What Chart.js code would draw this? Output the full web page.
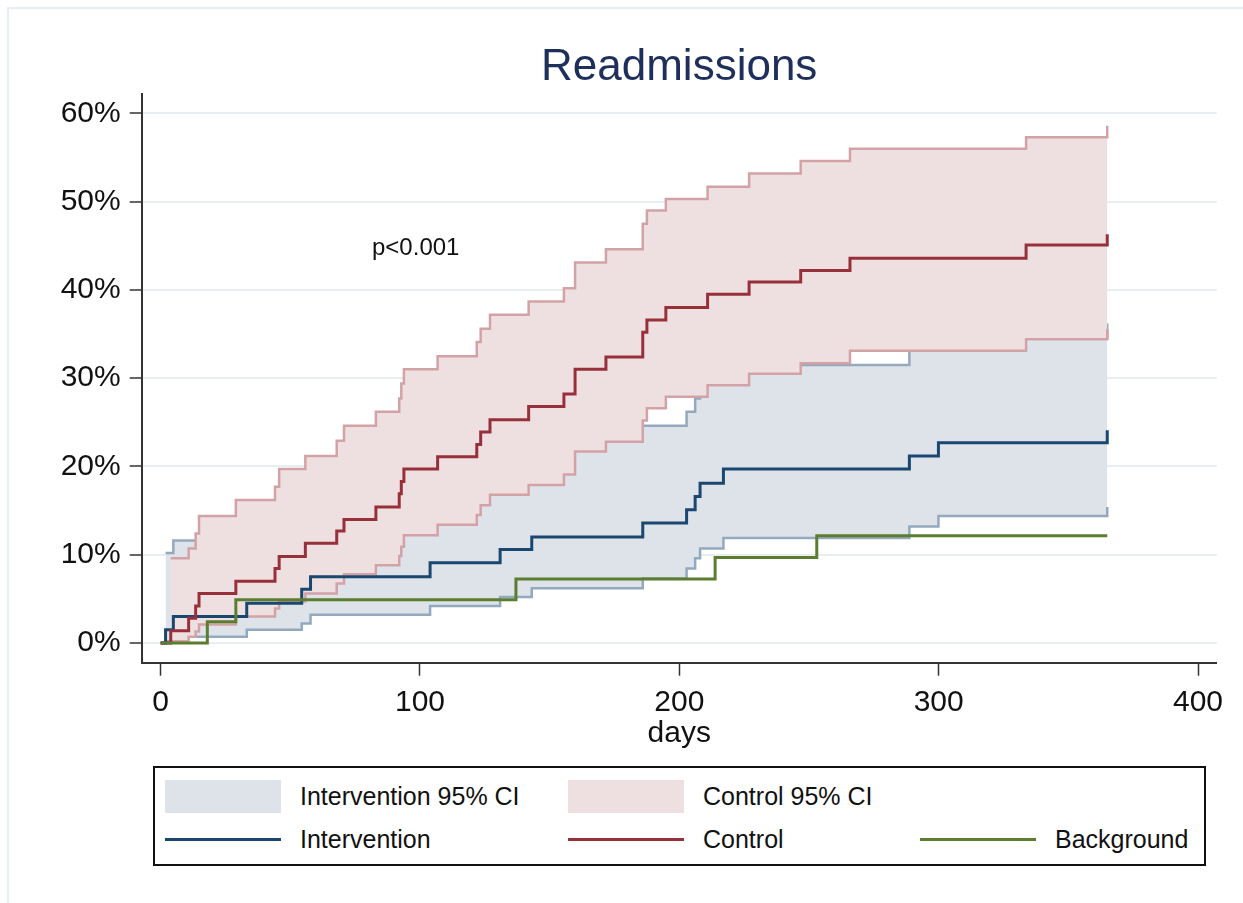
<!DOCTYPE html>
<html>
<head>
<meta charset="utf-8">
<title>Readmissions</title>
<script src="https://cdn.jsdelivr.net/npm/chart.js@4.4.1/dist/chart.umd.min.js"></script>
<style>
  body { margin: 0; background: #fff; font-family: "Liberation Sans", Arial, sans-serif; }
  #wrap { position: relative; width: 1243px; height: 903px; overflow: hidden; }
  #frame { position: absolute; left: 7px; top: 7px; right: -10px; bottom: -10px;
           border-left: 2px solid #e6eef1; border-top: 2px solid #e6eef1; }
  #myChart { position: absolute; left: 0; top: 0; }
  #legend { position: absolute; left: 153px; top: 766px; width: 1053px; height: 100px;
            border: 2px solid #111; box-sizing: border-box; background: #fff; }
  .sw { position: absolute; width: 116px; height: 33px; }
  .ln { position: absolute; width: 116px; height: 3px; }
  .lbl { position: absolute; font-size: 25px; line-height: 30px; color: #111; white-space: nowrap; }
</style>
</head>
<body>
<div id="wrap">
  <div id="frame"></div>
  <canvas id="myChart" width="1243" height="903"></canvas>
  <div id="legend"></div>
</div>
<script>
// intervention group (days, cumulative %)
const interDays = [0, 1.9, 4.9, 33.2, 54.4, 57.8, 103.9, 130.9, 143.1, 185.9, 202.8, 206.1, 208, 217, 288.7, 299.9, 365];
const interKM   = [0, 1.5, 3.0, 4.5, 6.1, 7.5, 9.1, 10.6, 12.0, 13.6, 15.1, 16.6, 18.1, 19.7, 21.2, 22.7, 24.1];
// CI starts at first event
const interLo   = [0.2, 0.7, 1.5, 2.2, 3.2, 4.2, 5.2, 6.2, 7.3, 8.45, 9.6, 10.7, 11.9, 13.2, 14.4, 15.4];
const interHi   = [10.2, 11.6, 14.0, 16.5, 18.0, 20.3, 22.0, 23.4, 24.6, 26.2, 27.7, 29.8, 31.5, 33.3, 34.6, 36.2];

// control group
const ctrlDays = [0, 3.9, 10.8, 13.5, 14.8, 29, 44.1, 45.7, 55.8, 67.9, 70.7, 83, 92, 92.8, 93.8, 106.8,
                  121.9, 123.4, 127, 141.9, 155.5, 159.8, 171.7, 185.9, 187.5, 194.8, 210.9, 226.9, 246.8, 265.8, 333.7, 365];
const ctrlKM   = [0, 1.4, 2.8, 4.2, 5.6, 7.0, 8.45, 9.8, 11.3, 12.7, 14.0, 15.4, 16.9, 18.3, 19.7, 21.1,
                  22.5, 23.9, 25.3, 26.8, 28.2, 31.0, 32.4, 35.2, 36.6, 38.0, 39.5, 40.9, 42.2, 43.6, 45.1, 46.3];
const ctrlLo   = [0.2, 0.7, 1.3, 2.1, 3.0, 3.9, 4.7, 5.6, 6.75, 7.8, 8.8, 9.85, 10.9, 12.2, 13.4,
                  14.5, 15.6, 16.8, 17.9, 19.1, 21.7, 22.8, 25.2, 26.6, 27.9, 29.2, 30.5, 31.7, 33.1, 34.4, 35.6];
const ctrlHi   = [9.6, 10.7, 12.4, 14.4, 16.2, 17.7, 19.7, 21.2, 22.9, 24.6, 26.2, 27.7, 29.4, 31.0, 32.5,
                  34.1, 35.6, 37.2, 38.7, 40.2, 43.1, 44.6, 47.5, 49.0, 50.3, 51.7, 53.2, 54.6, 56.0, 57.3, 58.6];

// background population
const bgDays = [0, 18, 29, 137, 213.8, 253, 365];
const bgKM   = [0, 2.4, 4.9, 7.25, 9.7, 12.15, 12.15];

const xTicks = [0, 100, 200, 300, 400];
const yTicks = [0, 10, 20, 30, 40, 50, 60];
const pText = 'p<0.001';
const pAt = [81.5, 44.7];

const FONT = '"Liberation Sans", Arial, sans-serif';
const navy = '#1a476f', maroon = '#98303b', green = '#5a7d2f';
const ciBlueLine = '#94a9bd', ciBlueFill = '#dee3ea';
const ciPinkLine = '#d3a2a7', ciPinkFill = '#eee0e1';

const pts = (days, vals) => vals.map((v, i) => ({ x: days[i], y: v }));

const line = (label, data, color, width, extra) => Object.assign({
    label: label,
    data: data,
    borderColor: color,
    borderWidth: width,
    pointRadius: 0,
    stepped: true,
    fill: false
}, extra || {});

const pLabel = {
    id: 'pLabel',
    afterDatasetsDraw(chart) {
        const { ctx, scales } = chart;
        ctx.save();
        ctx.font = '24px ' + FONT;
        ctx.fillStyle = '#111';
        ctx.textBaseline = 'middle';
        ctx.fillText(pText, scales.x.getPixelForValue(pAt[0]), scales.y.getPixelForValue(pAt[1]));
        ctx.restore();
    }
};

const drawChart = () => {
    const myChart = new Chart('myChart', {
        type: 'line',
        data: {
            datasets: [
                line('Background', pts(bgDays, bgKM), green, 3),
                line('Control', pts(ctrlDays, ctrlKM), maroon, 3),
                line('Intervention', pts(interDays, interKM), navy, 3),
                line('Control lower', pts(ctrlDays.slice(1), ctrlLo), ciPinkLine, 2.5),
                line('Control 95% CI', pts(ctrlDays.slice(1), ctrlHi), ciPinkLine, 2.5,
                     { fill: '-1', backgroundColor: ciPinkFill }),
                line('Intervention lower', pts(interDays.slice(1), interLo), ciBlueLine, 2.5),
                line('Intervention 95% CI', pts(interDays.slice(1), interHi), ciBlueLine, 2.5,
                     { fill: '-1', backgroundColor: ciBlueFill })
            ]
        },
        options: {
            responsive: false,
            animation: false,
            events: [],
            layout: { padding: { left: 0, right: 26.3, top: 0, bottom: 151.3 } },
            plugins: {
                legend: { display: false },
                tooltip: { enabled: false },
                filler: { drawTime: 'beforeDatasetDraw', propagate: false },
                title: {
                    display: true,
                    text: 'Readmissions',
                    color: '#1e2f5c',
                    fullSize: false,
                    font: { size: 44, family: FONT, weight: 'normal' },
                    padding: { top: 41.6, bottom: 0 }
                }
            },
            scales: {
                x: {
                    type: 'linear',
                    min: -7.3,
                    max: 407.2,
                    afterBuildTicks: a => { a.ticks = xTicks.map(v => ({ value: v })); },
                    afterFit: a => { a.height = 89; a.paddingLeft = 0; a.paddingRight = 0; },
                    grid: { drawOnChartArea: false, drawTicks: true, tickLength: 13, tickColor: '#333', tickWidth: 1.5 },
                    border: { color: '#333', width: 2 },
                    ticks: { font: { size: 30, family: FONT }, color: '#111', padding: 9, maxRotation: 0, autoSkip: false },
                    title: { display: true, text: 'days', color: '#111', font: { size: 30, family: FONT }, padding: 0 }
                },
                y: {
                    type: 'linear',
                    min: -2.23,
                    max: 62.15,
                    afterBuildTicks: a => { a.ticks = yTicks.map(v => ({ value: v })); },
                    afterFit: a => { a.width = 141.7; a.paddingTop = 0; a.paddingBottom = 0; },
                    grid: { color: '#e6eef1', lineWidth: 2, drawTicks: true, tickLength: 12, tickColor: '#333', tickWidth: 1.5 },
                    border: { color: '#333', width: 2 },
                    ticks: { font: { size: 30, family: FONT }, color: '#111', padding: 9, callback: v => v + '%' }
                }
            }
        },
        plugins: [pLabel]
    });
    return myChart;
};

// legend box below the plot
const legendItems = [
    { kind: 'sw', color: ciBlueFill, x: 165, y: 796, text: 'Intervention 95% CI', tx: 300 },
    { kind: 'sw', color: ciPinkFill, x: 568, y: 796, text: 'Control 95% CI', tx: 703 },
    { kind: 'ln', color: navy, x: 165, y: 839, text: 'Intervention', tx: 300 },
    { kind: 'ln', color: maroon, x: 568, y: 839, text: 'Control', tx: 703 },
    { kind: 'ln', color: green, x: 920, y: 839, text: 'Background', tx: 1055 }
];

const drawLegend = () => {
    const wrap = document.getElementById('wrap');
    legendItems.forEach(it => {
        const m = document.createElement('div');
        m.className = it.kind;
        m.style.background = it.color;
        m.style.left = it.x + 'px';
        m.style.top = (it.y - (it.kind === 'sw' ? 16.5 : 1.5)) + 'px';
        wrap.appendChild(m);
        const t = document.createElement('div');
        t.className = 'lbl';
        t.textContent = it.text;
        t.style.left = it.tx + 'px';
        t.style.top = (it.y - 15) + 'px';
        wrap.appendChild(t);
    });
};

drawChart();
drawLegend();
</script>
</body>
</html>
